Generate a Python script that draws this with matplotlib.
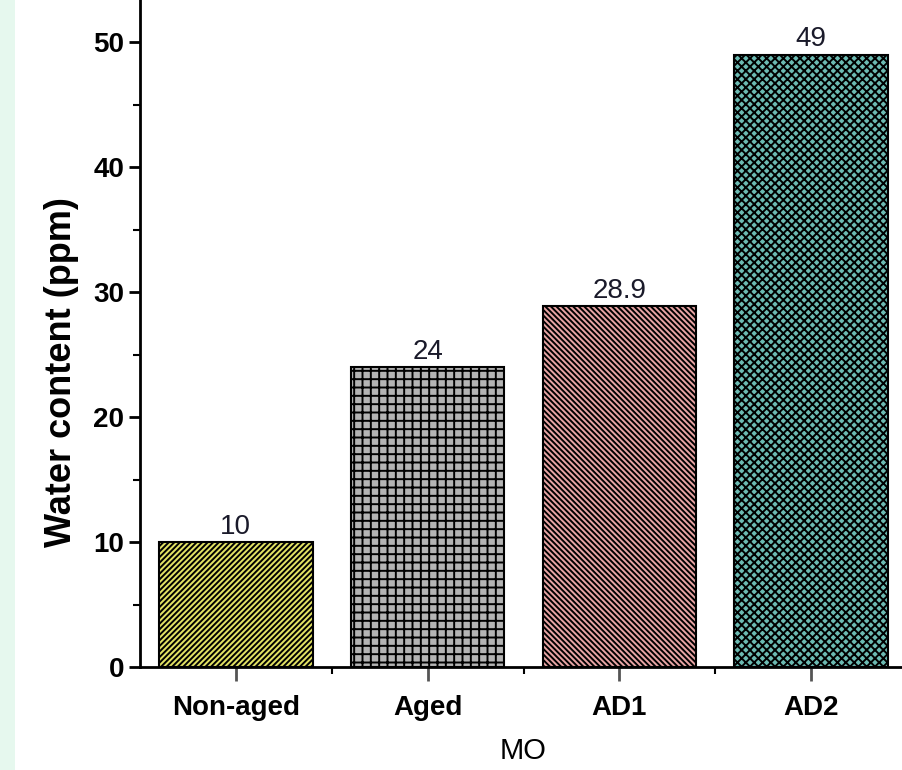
import matplotlib.pyplot as plt
from matplotlib.patches import Rectangle
from matplotlib.ticker import MultipleLocator

samples = ['Non-aged', 'Aged', 'AD1', 'AD2']
water = [10, 24, 28.9, 49]
value_labels = ['10', '24', '28.9', '49']

colors = ['#e2e264', '#b4b4b4', '#e8a4a4', '#6cbab2']
hatches = ['//////', '++', '\\\\\\\\\\\\', 'xxxx']

plt.rcParams['font.family'] = ['Liberation Sans', 'DejaVu Sans']
plt.rcParams['hatch.linewidth'] = 1.4

fig = plt.figure(figsize=(9.02, 7.7), dpi=100)
fig.patches.append(Rectangle((0, 0), 15 / 902, 1, transform=fig.transFigure,
                             facecolor='#e6f8ee', edgecolor='none', zorder=-1))
ax = fig.add_axes([140 / 902, 103 / 770, 767 / 902, 667 / 770])

x = range(len(samples))
bars = ax.bar(x, water, width=0.8, color=colors, edgecolor='black', linewidth=1.5)
for b, h in zip(bars, hatches):
    b.set_hatch(h)

for i, v in enumerate(water):
    ax.text(i, v + 0.2, value_labels[i], ha='center', va='bottom',
            fontsize=20, color='#1a1a2a')

ax.set_xlim(-0.5, 3.5)
ax.set_ylim(0, 53.4)
ax.set_xticks(list(x))
ax.set_xticklabels(samples, fontsize=20, fontweight='bold')
ax.xaxis.set_minor_locator(plt.FixedLocator([0.5, 1.5, 2.5]))
ax.yaxis.set_major_locator(MultipleLocator(10))
ax.yaxis.set_minor_locator(MultipleLocator(5))
ax.tick_params(axis='y', which='major', labelsize=20, length=8, width=2, direction='out')
ax.tick_params(axis='y', which='minor', length=5, width=1.5, direction='out')
ax.tick_params(axis='x', which='major', length=10, width=2, color='#555555', pad=10)
ax.tick_params(axis='x', which='minor', length=5, width=1.5, direction='out')
for lab in ax.get_yticklabels():
    lab.set_fontweight('bold')

ax.set_ylabel('Water content (ppm)', fontsize=26, fontweight='bold')
ax.yaxis.set_label_coords(-0.08, 0.442)
ax.set_xlabel('MO', fontsize=21, labelpad=12)

ax.spines['top'].set_visible(False)
ax.spines['right'].set_visible(False)
ax.spines['left'].set_linewidth(2)
ax.spines['bottom'].set_linewidth(2)

plt.savefig('out.png', dpi=100)
